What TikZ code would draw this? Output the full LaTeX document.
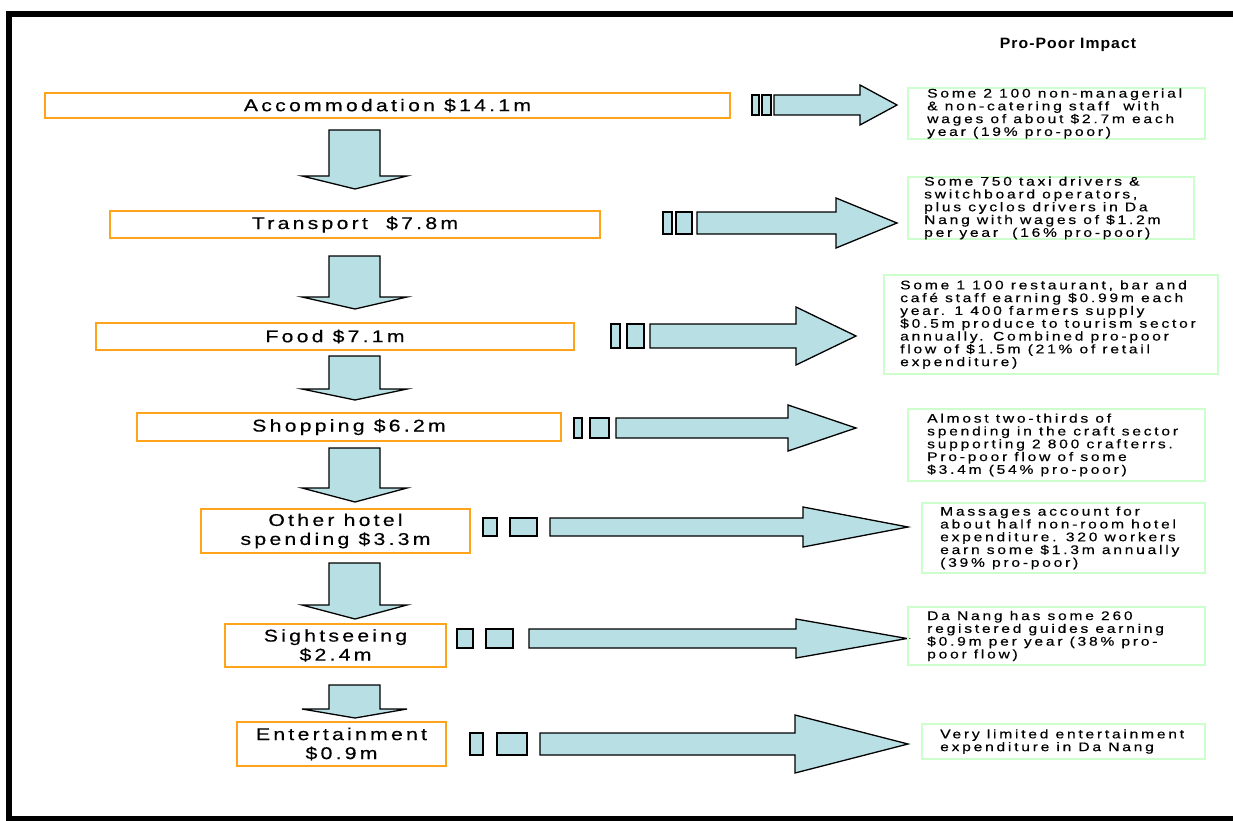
\documentclass[tikz,border=0pt]{standalone}
\usepackage{fontspec}
\setmainfont{Liberation Sans}
\newfontfamily\spendfont[LetterSpace=19, FakeStretch=1.25, FakeBold=0.4]{Liberation Sans}
\newfontfamily\impactfont[LetterSpace=22, FakeStretch=1.25, FakeBold=0.4]{Liberation Sans}
\newfontfamily\headfont[LetterSpace=7, FakeStretch=1.05]{Liberation Sans}
\usepackage{tikz}
\usetikzlibrary{positioning}

\definecolor{spendorange}{RGB}{255,163,26}
\definecolor{impactgreen}{RGB}{204,255,204}
\definecolor{flowblue}{RGB}{184,223,227}

\begin{document}
\begin{tikzpicture}[
  x=1pt, y=-1pt,
  spend/.style={draw=spendorange, line width=2pt, inner sep=0pt, align=center, font=\spendfont\fontsize{17}{19}\selectfont},
  impact/.style={draw=impactgreen, line width=2pt, inner sep=0pt, anchor=north west},
  impacttext/.style={inner sep=0pt, align=left, font=\impactfont\fontsize{12.5}{12.8}\selectfont},
  flow/.style={draw=black, line width=1.3pt, fill=flowblue, line join=miter},
  gap/.style={draw=black, line width=1.3pt, fill=flowblue, inner sep=0pt}
]
\useasboundingbox (0,0) rectangle (1233,821);

% Frame
\draw[line width=6pt, line join=miter] (1245,14) -- (9,14) -- (9,818.5) -- (1245,818.5);

% Heading
\node[font=\headfont\bfseries\fontsize{15}{17}\selectfont] (head) at (1068,45) {Pro-Poor Impact};

% Spending boxes
\node[spend, minimum width=685, minimum height=25] (accom) at (387.5,105.5) {Accommodation \$14.1m};
\node[spend, minimum width=490, minimum height=27] (transport) at (355,224.5) {Transport\ \ \$7.8m};
\node[spend, minimum width=478, minimum height=27] (food) at (335,336.5) {Food \$7.1m};
\node[spend, minimum width=424, minimum height=28] (shopping) at (349,427) {Shopping \$6.2m};
\node[spend, minimum width=269, minimum height=44] (otherhotel) at (335.5,531) {Other hotel\\spending \$3.3m};
\node[spend, minimum width=221, minimum height=43] (sightsee) at (335.5,645.5) {Sightseeing\\\$2.4m};
\node[spend, minimum width=209, minimum height=44] (entertain) at (341.5,744) {Entertainment\\\$0.9m};

% Downward block arrows
\draw[flow] (329,130) -- (380,130) -- (380,176) -- (407,176) -- (355,189) -- (302,176) -- (329,176) -- cycle;
\draw[flow] (329,256) -- (380,256) -- (380,297) -- (407,297) -- (355,309) -- (302,297) -- (329,297) -- cycle;
\draw[flow] (329,356) -- (380,356) -- (380,389) -- (407,389) -- (355,400) -- (302,389) -- (329,389) -- cycle;
\draw[flow] (329,448) -- (380,448) -- (380,488) -- (407,488) -- (355,502) -- (302,488) -- (329,488) -- cycle;
\draw[flow] (329,563) -- (380,563) -- (380,605) -- (407,605) -- (355,619) -- (302,605) -- (329,605) -- cycle;
\draw[flow] (329,685) -- (380,685) -- (380,709) -- (407,709) -- (355,718) -- (302,709) -- (329,709) -- cycle;

% Gaps before the right arrows
\node[gap, minimum width=7, minimum height=20] (gapA1) at (755.5,105) {};
\node[gap, minimum width=9, minimum height=20] (gapA2) at (766.5,105) {};
\node[gap, minimum width=9, minimum height=22] (gapB1) at (667.5,223) {};
\node[gap, minimum width=16, minimum height=22] (gapB2) at (684,223) {};
\node[gap, minimum width=9, minimum height=24] (gapC1) at (615.5,336) {};
\node[gap, minimum width=17, minimum height=24] (gapC2) at (635.5,336) {};
\node[gap, minimum width=8, minimum height=20] (gapD1) at (578,428) {};
\node[gap, minimum width=19, minimum height=20] (gapD2) at (599.5,428) {};
\node[gap, minimum width=14, minimum height=18] (gapE1) at (490,527) {};
\node[gap, minimum width=27, minimum height=18] (gapE2) at (523.5,527) {};
\node[gap, minimum width=16, minimum height=19] (gapF1) at (465,638.5) {};
\node[gap, minimum width=27, minimum height=19] (gapF2) at (499.5,638.5) {};
\node[gap, minimum width=13, minimum height=22] (gapG1) at (476.5,744) {};
\node[gap, minimum width=30, minimum height=22] (gapG2) at (512,744) {};

% Right block arrows
\draw[flow] (774,95) -- (860,95) -- (860,85) -- (897,105) -- (860,125) -- (860,115) -- (774,115) -- cycle;
\draw[flow] (697,212) -- (836,212) -- (836,198) -- (897,223) -- (836,248) -- (836,234) -- (697,234) -- cycle;
\draw[flow] (650,324) -- (796,324) -- (796,307) -- (856,336) -- (796,365) -- (796,348) -- (650,348) -- cycle;
\draw[flow] (616,418) -- (788,418) -- (788,405) -- (856,428) -- (788,451) -- (788,438) -- (616,438) -- cycle;
\draw[flow] (550,518) -- (803,518) -- (803,507) -- (908,527) -- (803,547) -- (803,536) -- (550,536) -- cycle;
\draw[flow] (529,629) -- (796,629) -- (796,619) -- (907,638.5) -- (796,658) -- (796,648) -- (529,648) -- cycle;
\draw[flow] (540,733) -- (795,733) -- (795,715) -- (908,744) -- (795,773) -- (795,755) -- (540,755) -- cycle;

% Pro-poor impact boxes
\node[impact, minimum width=297, minimum height=51] (imp1) at (907,87) {};
\node[impacttext, right=20pt of imp1.west] (imp1txt) {Some 2 100 non-managerial\\\& non-catering staff\ \ with\\wages of about \$2.7m each\\year (19\% pro-poor)};
\node[impact, minimum width=286, minimum height=62] (imp2) at (907,176) {};
\node[impacttext, right=17pt of imp2.west] (imp2txt) {Some 750 taxi drivers \&\\switchboard operators,\\plus cyclos drivers in Da\\Nang with wages of \$1.2m\\per year\ \ (16\% pro-poor)};
\node[impact, minimum width=334, minimum height=99] (imp3) at (883,274) {};
\node[impacttext, right=17pt of imp3.west] (imp3txt) {Some 1 100 restaurant, bar and\\café staff earning \$0.99m each\\year. 1 400 farmers supply\\\$0.5m produce to tourism sector\\annually. Combined pro-poor\\flow of \$1.5m (21\% of retail\\expenditure)};
\node[impact, minimum width=297, minimum height=72] (imp4) at (907,408) {};
\node[impacttext, right=20pt of imp4.west] (imp4txt) {Almost two-thirds of\\spending in the craft sector\\supporting 2 800 crafterrs.\\Pro-poor flow of some\\\$3.4m (54\% pro-poor)};
\node[impact, minimum width=283, minimum height=70] (imp5) at (921,502) {};
\node[impacttext, right=19pt of imp5.west] (imp5txt) {Massages account for\\about half non-room hotel\\expenditure. 320 workers\\earn some \$1.3m annually\\(39\% pro-poor)};
\node[impact, minimum width=297, minimum height=58] (imp6) at (907,606) {};
\node[impacttext, right=20pt of imp6.west] (imp6txt) {Da Nang has some 260\\registered guides earning\\\$0.9m per year (38\% pro-\\poor flow)};
\node[impact, minimum width=283, minimum height=35] (imp7) at (921,723) {};
\node[impacttext, right=19pt of imp7.west] (imp7txt) {Very limited entertainment\\expenditure in Da Nang};
\end{tikzpicture}
\end{document}
